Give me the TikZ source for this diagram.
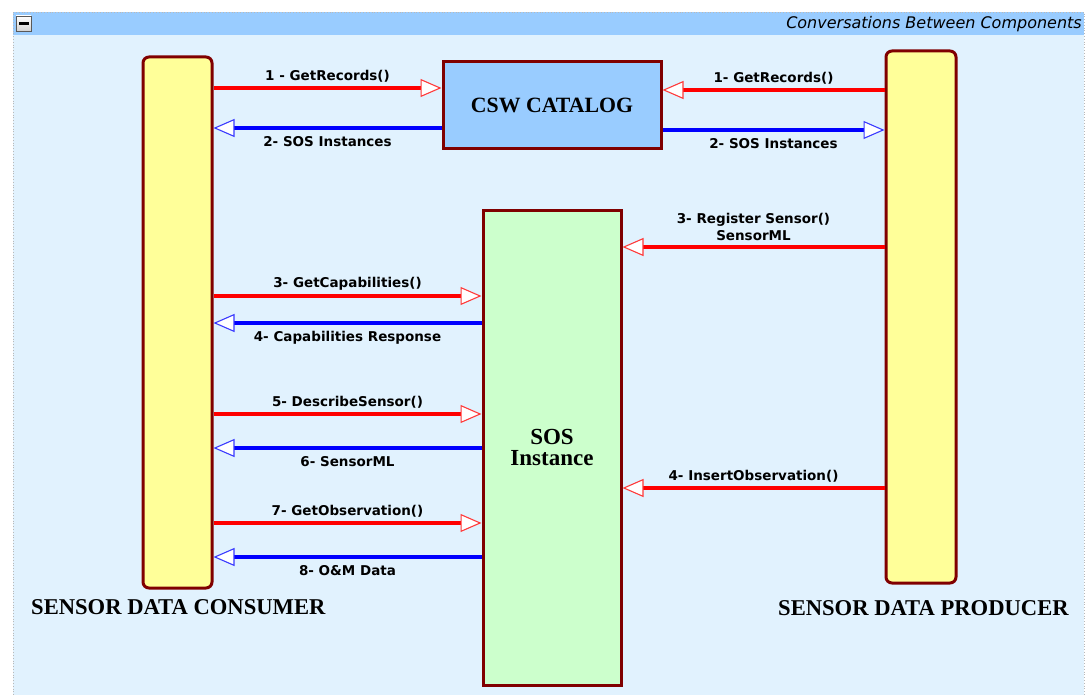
\documentclass[tikz,border=0pt]{standalone}
\usepackage{fontspec}
\setmainfont{Liberation Serif}
\newfontfamily\msgfont{DejaVu Sans}
\usetikzlibrary{arrows.meta}
\definecolor{panelbg}{HTML}{E1F2FE}
\definecolor{headerbg}{HTML}{99CCFF}
\definecolor{boxborder}{HTML}{800000}
\definecolor{actorfill}{HTML}{FFFF99}
\definecolor{catfill}{HTML}{99CCFF}
\definecolor{sosfill}{HTML}{CCFFCC}
\definecolor{reqred}{HTML}{FF0000}
\definecolor{reqtip}{HTML}{FF3A3A}
\definecolor{resblue}{HTML}{0000FF}
\definecolor{restip}{HTML}{3A3AFF}
\begin{document}
\begin{tikzpicture}[x=1pt,y=-1pt,
  actor/.style={draw=boxborder, line width=3pt, fill=actorfill, rounded corners=6pt, inner sep=0pt},
  service/.style={draw=boxborder, line width=3pt, inner sep=0pt, align=center},
  rolelabel/.style={font=\bfseries\fontsize{22.6}{25}\selectfont},
  msg/.style={font=\msgfont\bfseries\fontsize{13.5}{17}\selectfont, align=center, inner sep=1pt},
  request/.style={draw=reqred, line width=4pt,
    -{Triangle[length=21pt,width=18pt,line width=1.1pt,color=reqtip,fill=white]}},
  response/.style={draw=resblue, line width=4pt,
    -{Triangle[length=21pt,width=18pt,line width=1.1pt,color=restip,fill=white]}},
  over/.style={above=3pt},
  under/.style={below=5pt}]
\useasboundingbox (0,0) rectangle (1086,695);
\fill[white] (0,0) rectangle (1086,695);

% panel with its title bar
\fill[panelbg] (13,12) rectangle (1084,695);
\fill[headerbg] (13,12) rectangle (1084,35);
\draw[gray!55, dotted, line width=0.8pt] (13,695) -- (13,12) -- (1084,12) -- (1084,695);
\node[draw=gray!70!black, line width=0.8pt, top color=white, bottom color=gray!35,
  minimum width=15pt, minimum height=15pt, inner sep=0pt] (collapse) at (23.5,23.5) {};
\fill[black] (18.5,22.2) rectangle (28.5,24.8);
\node[anchor=east, font=\msgfont\itshape\fontsize{16}{18}\selectfont, inner sep=0pt]
  (title) at (1082,24) {Conversations Between Components};

% components
\node[actor, minimum width=69pt, minimum height=531pt] (consumer) at (177.5,322.5) {};
\node[actor, minimum width=70pt, minimum height=532pt] (producer) at (921,317) {};
\node[service, fill=catfill, minimum width=218pt, minimum height=87pt,
  font=\bfseries\fontsize{21.8}{22}\selectfont] (csw) at (552,105.5) {CSW CATALOG};
\node[service, fill=sosfill, minimum width=138pt, minimum height=475pt,
  font=\bfseries\fontsize{23}{21}\selectfont] (sos) at (552,447.5) {SOS\\Instance};

\node[rolelabel, anchor=west, inner sep=0pt] (consumerlabel) at (31,607) {SENSOR DATA CONSUMER};
\node[rolelabel, anchor=west, inner sep=0pt] (producerlabel) at (778,608) {SENSOR DATA PRODUCER};

% message rows
\coordinate (r1) at (0,88);
\coordinate (r2) at (0,128);
\coordinate (p1) at (0,90);
\coordinate (p2) at (0,130);
\coordinate (p3) at (0,247);
\coordinate (r3) at (0,296);
\coordinate (r4) at (0,323);
\coordinate (r5) at (0,414);
\coordinate (r6) at (0,448);
\coordinate (p4) at (0,488);
\coordinate (r7) at (0,523);
\coordinate (r8) at (0,557);

% consumer <-> catalog
\draw[request] (consumer.east |- r1) -- node[msg, over] {1 - GetRecords()} (csw.west |- r1);
\draw[response] (csw.west |- r2) -- node[msg, under] {2- SOS Instances} (consumer.east |- r2);
% producer <-> catalog
\draw[request] (producer.west |- p1) -- node[msg, over] {1- GetRecords()} (csw.east |- p1);
\draw[response] (csw.east |- p2) -- node[msg, under] {2- SOS Instances} (producer.west |- p2);
% producer -> SOS
\draw[request] (producer.west |- p3) -- node[msg, over] {3- Register Sensor()\\SensorML} (sos.east |- p3);
\draw[request] (producer.west |- p4) -- node[msg, over] {4- InsertObservation()} (sos.east |- p4);
% consumer <-> SOS
\draw[request] (consumer.east |- r3) -- node[msg, over] {3- GetCapabilities()} (sos.west |- r3);
\draw[response] (sos.west |- r4) -- node[msg, under] {4- Capabilities Response} (consumer.east |- r4);
\draw[request] (consumer.east |- r5) -- node[msg, over] {5- DescribeSensor()} (sos.west |- r5);
\draw[response] (sos.west |- r6) -- node[msg, under] {6- SensorML} (consumer.east |- r6);
\draw[request] (consumer.east |- r7) -- node[msg, over] {7- GetObservation()} (sos.west |- r7);
\draw[response] (sos.west |- r8) -- node[msg, under] {8- O\&M Data} (consumer.east |- r8);
\end{tikzpicture}
\end{document}
